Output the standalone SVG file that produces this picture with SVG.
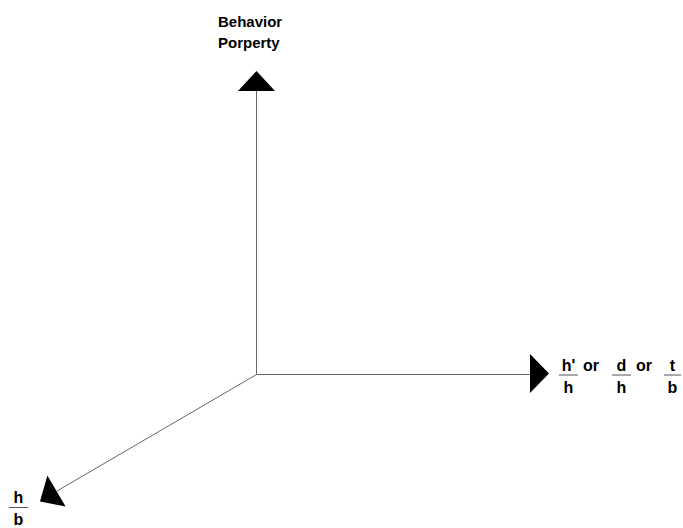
<svg xmlns="http://www.w3.org/2000/svg" width="683" height="528" viewBox="0 0 683 528">
<style>
text{font-family:"Liberation Sans",Arial,sans-serif;font-weight:bold;font-size:15px;fill:#000}
.f{font-size:16px}
.c{text-anchor:middle}
.axis{stroke:#666;stroke-width:1;fill:none}
.head{fill:#000;stroke:none}
.bar{stroke:#555;stroke-width:1}
</style>
<rect width="683" height="528" fill="#fff"/>
<g id="connectors">
<line class="axis" x1="256.5" y1="374.5" x2="256.5" y2="90"/>
<line class="axis" x1="256.5" y1="374.5" x2="531" y2="374.5"/>
<line class="axis" x1="256.5" y1="374.5" x2="57" y2="491"/>
<polygon class="head" points="256.5,71 238,91 275,91"/>
<polygon class="head" points="549,373.5 530,354 530,393"/>
<polygon class="head" points="40,501.5 65.6,506.5 47.4,475.5"/>
</g>
<g id="label-behavior">
<text x="218" y="27">Behavior</text>
<text x="218" y="48">Porperty</text>
</g>
<g id="label-x" class="f">
<text class="c f" x="568.5" y="371">h'</text>
<line class="bar" x1="559" y1="375" x2="578" y2="375"/>
<text class="c f" x="568.5" y="393">h</text>
<text class="f" x="583" y="371">or</text>
<text class="c f" x="621.5" y="371">d</text>
<line class="bar" x1="612" y1="375" x2="631" y2="375"/>
<text class="c f" x="621.5" y="393">h</text>
<text class="f" x="636" y="371">or</text>
<text class="c f" x="672.5" y="371">t</text>
<line class="bar" x1="664" y1="375" x2="681" y2="375"/>
<text class="c f" x="672.5" y="393">b</text>
</g>
<g id="label-z">
<text class="c f" x="18.5" y="503">h</text>
<line class="bar" x1="9" y1="507.5" x2="28" y2="507.5"/>
<text class="c f" x="18.5" y="525">b</text>
</g>
</svg>
